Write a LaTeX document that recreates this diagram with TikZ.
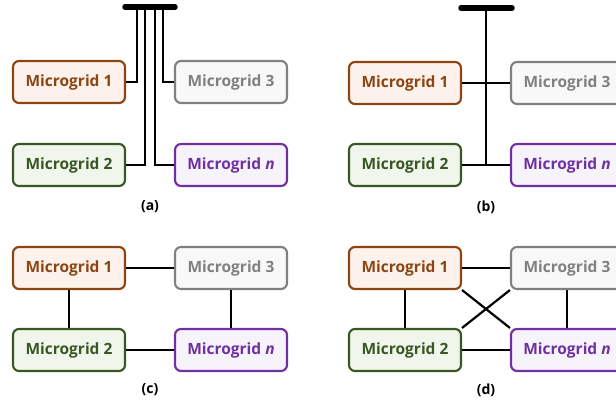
\documentclass[tikz,border=0pt]{standalone}
\usepackage{fontspec}
\setmainfont{Open Sans}
\usetikzlibrary{backgrounds}
\definecolor{mgbrown}{RGB}{139,69,19}
\definecolor{mgbrownfill}{RGB}{252,242,235}
\definecolor{mggreen}{RGB}{56,87,35}
\definecolor{mggreenfill}{RGB}{241,246,236}
\definecolor{mggray}{RGB}{128,128,128}
\definecolor{mggrayfill}{RGB}{248,248,248}
\definecolor{mgpurple}{RGB}{112,48,160}
\definecolor{mgpurplefill}{RGB}{246,243,251}
\tikzset{
  grid/.style={draw, rounded corners=6pt, line width=2.1pt, minimum width=112pt,
    minimum height=42pt, inner sep=0pt, font=\fontsize{15.5}{17}\selectfont\bfseries},
  g1/.style={grid, draw=mgbrown, fill=mgbrownfill, text=mgbrown},
  g2/.style={grid, draw=mggreen, fill=mggreenfill, text=mggreen},
  g3/.style={grid, draw=mggray, fill=mggrayfill, text=mggray},
  gn/.style={grid, draw=mgpurple, fill=mgpurplefill, text=mgpurple},
  wire/.style={draw=black, line width=2.2pt},
  bus/.style={draw=black, line width=5.5pt, line cap=round},
  panellabel/.style={font=\fontsize{14}{16}\selectfont\bfseries, text=black},
}
\begin{document}
\begin{tikzpicture}[x=1pt, y=-1pt]
  \useasboundingbox (0,0) rectangle (616,404);
  \clip (0,0) rectangle (616,404);

  % (a) individual feeders to a common bus
  \node[g1] (a1) at (69,82) {Microgrid 1};
  \node[g3] (a3) at (231,82) {Microgrid 3};
  \node[g2] (a2) at (69,165) {Microgrid 2};
  \node[gn] (an) at (231,165) {Microgrid \textit{n}};
  \coordinate (abl) at (125,7);
  \coordinate (abr) at (175,7);
  \path[bus] (abl) -- (abr);
  \path[wire] (a1.east) -| (137,7);
  \path[wire] (a2.east) -| (145,7);
  \path[wire] (an.west) -| (155,7);
  \path[wire] (a3.west) -| (163,7);
  \node[panellabel] (la) at (150,207) {(a)};

  % (b) single trunk from the bus
  \node[g1] (b1) at (405,83) {Microgrid 1};
  \node[g3] (b3) at (567,83) {Microgrid 3};
  \node[g2] (b2) at (405,165) {Microgrid 2};
  \node[gn] (bn) at (567,165) {Microgrid \textit{n}};
  \coordinate (bbl) at (461,8);
  \coordinate (bbr) at (512,8);
  \coordinate (btop) at (486,8);
  \coordinate (bbot) at (486,165);
  \path[bus] (bbl) -- (bbr);
  \path[wire] (btop) -- (bbot);
  \path[wire] (b1.east) -- (b3.west);
  \path[wire] (b2.east) -- (bn.west);
  \node[panellabel] (lb) at (486,207) {(b)};

  % (c) ring
  \node[g1] (c1) at (69,268) {Microgrid 1};
  \node[g3] (c3) at (231,268) {Microgrid 3};
  \node[g2] (c2) at (69,350) {Microgrid 2};
  \node[gn] (cn) at (231,350) {Microgrid \textit{n}};
  \path[wire] (c1.east) -- (c3.west);
  \path[wire] (c2.east) -- (cn.west);
  \path[wire] (c1.south) -- (c2.north);
  \path[wire] (c3.south) -- (cn.north);
  \node[panellabel] (lc) at (150,390) {(c)};

  % (d) mesh
  \node[g1] (d1) at (405,268) {Microgrid 1};
  \node[g3] (d3) at (567,268) {Microgrid 3};
  \node[g2] (d2) at (405,350) {Microgrid 2};
  \node[gn] (dn) at (567,350) {Microgrid \textit{n}};
  \node[panellabel] (ld) at (486,390) {(d)};
  \begin{scope}[on background layer]
    \path[wire] (d1.east) -- (d3.west);
    \path[wire] (d2.east) -- (dn.west);
    \path[wire] (d1.south) -- (d2.north);
    \path[wire] (d3.south) -- (dn.north);
    \path[wire] (d1.south east) -- (dn.north west);
    \path[wire] (d2.north east) -- (d3.south west);
  \end{scope}
\end{tikzpicture}
\end{document}
